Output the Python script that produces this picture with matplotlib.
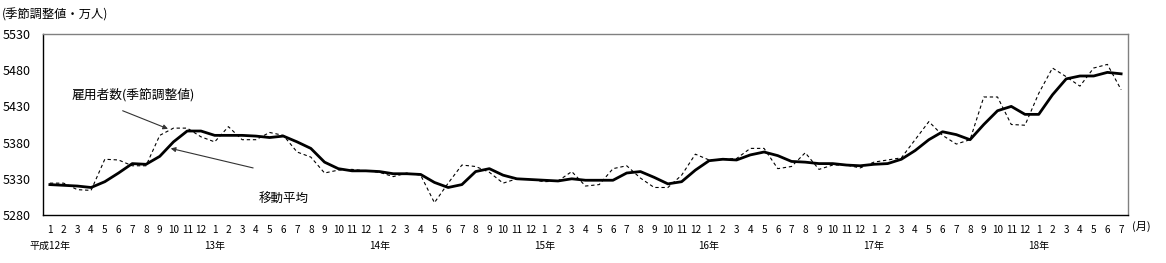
import matplotlib
matplotlib.use("Agg")
import matplotlib.pyplot as plt
import numpy as np

plt.rcParams['font.family'] = ['Noto Sans CJK JP', 'DejaVu Sans']

# Months from 平成12年1月 to 18年7月
years = [12, 13, 14, 15, 16, 17, 18]
months = [m for y in years for m in range(1, 13)][:79]
year_labels = ['平成12年', '13年', '14年', '15年', '16年', '17年', '18年']

# 雇用者数（季節調整値）
seasonal = [5324, 5324, 5315, 5314, 5357, 5356, 5348, 5348, 5390, 5400, 5400, 5388,
            5381, 5402, 5384, 5384, 5394, 5390, 5367, 5360, 5338, 5342, 5343, 5341,
            5339, 5333, 5338, 5335, 5297, 5324, 5349, 5347, 5339, 5324, 5330, 5329,
            5326, 5327, 5340, 5320, 5322, 5344, 5348, 5331, 5318, 5318, 5335, 5364,
            5356, 5357, 5358, 5372, 5372, 5344, 5347, 5366, 5343, 5349, 5349, 5345,
            5353, 5356, 5359, 5384, 5409, 5390, 5378, 5384, 5443, 5443, 5405, 5404,
            5448, 5483, 5471, 5458, 5483, 5488, 5453]

# 移動平均
moving_avg = [5322, 5321, 5320, 5318, 5326, 5338, 5351, 5350, 5361, 5381, 5396, 5396,
              5390, 5390, 5390, 5389, 5387, 5389, 5381, 5372, 5353, 5344, 5341, 5341,
              5340, 5337, 5337, 5336, 5325, 5318, 5322, 5340, 5344, 5335, 5330, 5329,
              5328, 5327, 5330, 5328, 5328, 5328, 5338, 5340, 5332, 5323, 5326, 5342,
              5355, 5357, 5356, 5363, 5367, 5362, 5354, 5353, 5351, 5351, 5349, 5348,
              5350, 5351, 5357, 5369, 5384, 5395, 5391, 5384, 5405, 5424, 5430, 5419,
              5419, 5446, 5468, 5472, 5472, 5477, 5475]

y_ticks = [5280, 5330, 5380, 5430, 5480, 5530]

W, H = 1166, 263
fig = plt.figure(figsize=(W / 100, H / 100), dpi=100)
ax = fig.add_axes([43 / W, 1 - 215 / H, (1128 - 43) / W, (215 - 34) / H])

x = np.arange(len(months))
ax.plot(x, seasonal, color='black', lw=0.8, linestyle=(0, (3, 2.5)))
ax.plot(x, moving_avg, color='black', lw=2.0)

ax.set_xlim(-0.5, len(months) - 0.5)
ax.set_ylim(y_ticks[0], y_ticks[-1])
ax.set_yticks(y_ticks)
ax.set_yticklabels([str(v) for v in y_ticks], fontsize=9)
ax.set_xticks(x)
ax.set_xticklabels([str(m) for m in months], fontsize=7.2)
ax.tick_params(axis='both', length=0)
ax.tick_params(axis='x', pad=7)
ax.tick_params(axis='y', pad=9)

for s in ['left', 'bottom']:
    ax.spines[s].set_color('black')
    ax.spines[s].set_linewidth(1.0)
for s in ['top', 'right']:
    ax.spines[s].set_color('#808080')
    ax.spines[s].set_linewidth(1.0)

# year labels under month 1 of each year
for k, lab in enumerate(year_labels):
    ax.text(k * 12, -0.145, lab, transform=ax.get_xaxis_transform(),
            ha='center', va='top', fontsize=7.2)

ax.text(1.004, -0.035, '(月)', transform=ax.transAxes, ha='left', va='top', fontsize=8)
fig.text(2 / W, 1 - 15 / H, '(季節調整値・万人)', ha='left', va='center', fontsize=8.8)

# annotations
ax.annotate('', xy=(8.6, 5399), xytext=(5.3, 5424),
            arrowprops=dict(arrowstyle='-|>', color='#333333', lw=0.8,
                            mutation_scale=7, shrinkA=0, shrinkB=0))
ax.text(1.6, 5446, '雇用者数(季節調整値)', fontsize=9.2, ha='left', va='center')
ax.annotate('', xy=(8.8, 5372), xytext=(14.8, 5345),
            arrowprops=dict(arrowstyle='-|>', color='#333333', lw=0.8,
                            mutation_scale=7, shrinkA=0, shrinkB=0))
ax.text(15.2, 5302, '移動平均', fontsize=9, ha='left', va='center')

fig.savefig('out.png', dpi=100)
